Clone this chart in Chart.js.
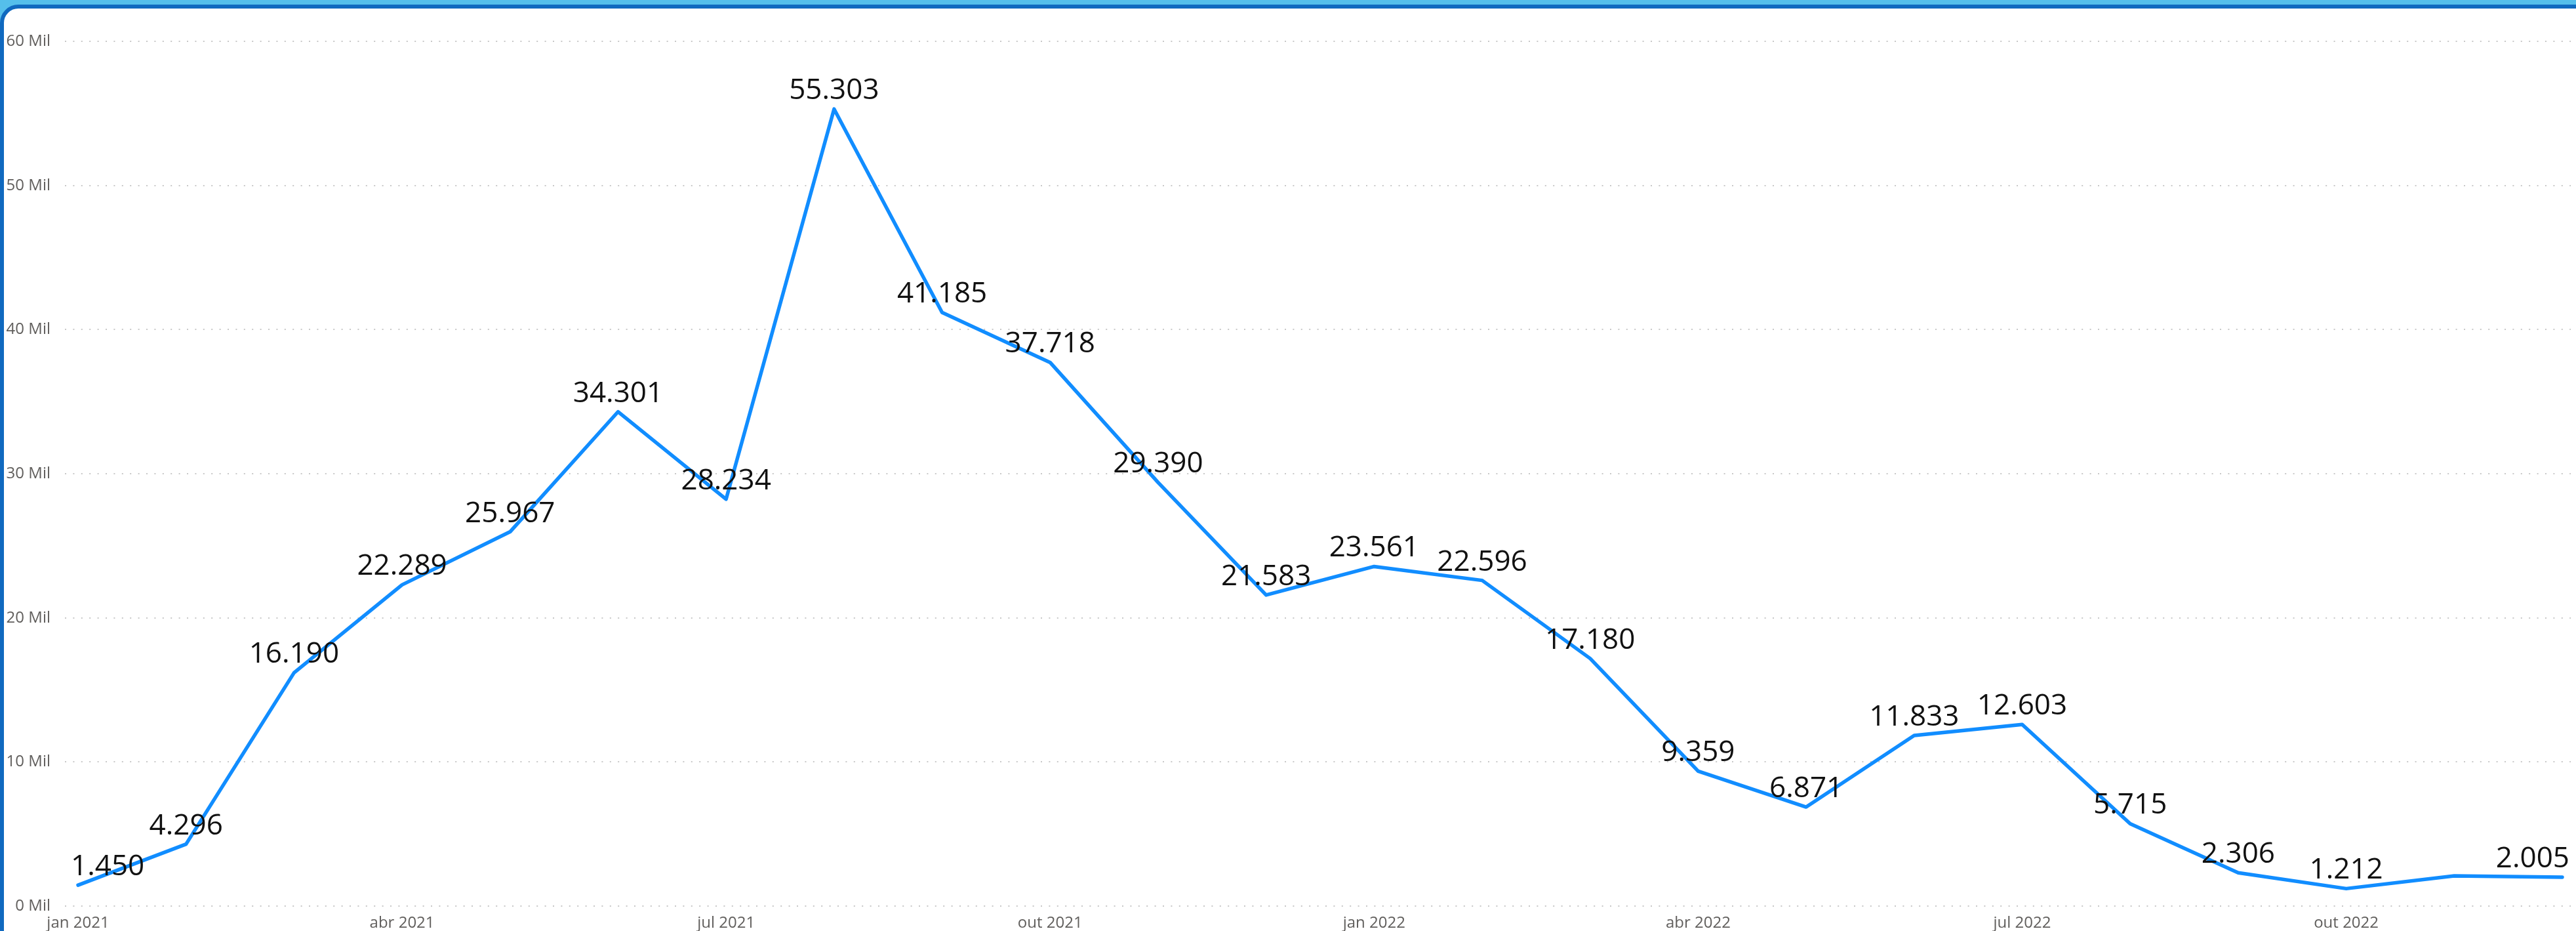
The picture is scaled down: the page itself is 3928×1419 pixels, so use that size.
<!DOCTYPE html>
<html>
<head>
<meta charset="utf-8">
<script src="https://cdn.jsdelivr.net/npm/chart.js@4"></script>
<style>
  html, body { margin: 0; padding: 0; width: 3928px; height: 1419px; overflow: hidden; background: #55BFEB; }
  .card {
    position: absolute; left: 0; top: 7px; width: 4000px; height: 1500px;
    background: #fff; border: 6px solid #1069BF; border-top-left-radius: 28px;
    box-sizing: border-box;
  }
  .wrap { position: absolute; left: 0; top: 0; width: 3928px; height: 1419px; }
</style>
</head>
<body>
<div class="card"></div>
<div class="wrap"><canvas id="grafico"></canvas></div>
<script>
// meses (eixo x)
const meses = ['jan 2021','fev 2021','mar 2021','abr 2021','mai 2021','jun 2021',
               'jul 2021','ago 2021','set 2021','out 2021','nov 2021','dez 2021',
               'jan 2022','fev 2022','mar 2022','abr 2022','mai 2022','jun 2022',
               'jul 2022','ago 2022','set 2022','out 2022','nov 2022','dez 2022'];
// valores mensais
const valores = [1450, 4296, 16190, 22289, 25967, 34301, 28234, 55303, 41185, 37718, 29390, 21583,
                 23561, 22596, 17180, 9359, 6871, 11833, 12603, 5715, 2306, 1212, 2090, 2005];
// meses com rótulo no eixo x
const mesesEixo = [0, 3, 6, 9, 12, 15, 18, 21];
// marcas do eixo y
const ticksY = [0, 10000, 20000, 30000, 40000, 50000, 60000];
// rótulo de dados escondido (sobreposição no original)
const semRotulo = [22];

const fmt = v => String(v).replace(/\B(?=(\d{3})+(?!\d))/g, '.');

// desenha os valores acima de cada ponto
const rotulos = {
    id: 'rotulos',
    afterDatasetsDraw(chart) {
        const ctx = chart.ctx;
        const area = chart.chartArea;
        const meta = chart.getDatasetMeta(0);
        ctx.save();
        ctx.font = '44px "Open Sans", "Noto Sans", sans-serif';
        ctx.fillStyle = '#111';
        ctx.textAlign = 'center';
        ctx.textBaseline = 'alphabetic';
        meta.data.forEach((pt, i) => {
            if (semRotulo.includes(i)) return;
            const txt = fmt(valores[i]);
            const w = ctx.measureText(txt).width;
            let x = pt.x;
            if (x - w / 2 < area.left + 9) x = area.left + 9 + w / 2;
            if (x + w / 2 > area.right - 2) x = area.right - 2 - w / 2;
            ctx.fillText(txt, x, pt.y - 15);
        });
        ctx.restore();
    }
};

const ctx = document.getElementById('grafico');
new Chart(ctx, {
    type: 'line',
    data: {
        datasets: [{
            data: valores.map((v, i) => ({ x: i, y: v })),
            borderColor: '#118DFF',
            borderWidth: 5.5,
            borderCapStyle: 'round',
            borderJoinStyle: 'round',
            pointRadius: 0,
            tension: 0,
            fill: false
        }]
    },
    options: {
        responsive: true,
        maintainAspectRatio: false,
        animation: false,
        layout: { padding: { top: 63, right: 8, bottom: 0, left: 0 } },
        plugins: { legend: { display: false }, tooltip: { enabled: false } },
        scales: {
            x: {
                type: 'linear',
                min: -0.1214,
                max: 23.079,
                afterBuildTicks: s => { s.ticks = mesesEixo.map(v => ({ value: v })); },
                afterFit: s => { s.height = 38; },
                grid: { display: false, drawTicks: false },
                border: { display: false },
                ticks: {
                    autoSkip: false, maxRotation: 0, padding: 12,
                    color: '#605E5C',
                    font: { family: '"Open Sans", "Noto Sans", sans-serif', size: 24 },
                    callback: v => meses[v]
                }
            },
            y: {
                min: 0,
                max: 60000,
                afterBuildTicks: s => { s.ticks = ticksY.map(v => ({ value: v })); },
                afterFit: s => { s.width = 99; },
                grid: { color: '#C8C8C8', lineWidth: 2, drawTicks: false },
                border: { display: false, dash: [2, 10.4] },
                ticks: {
                    padding: 22,
                    color: '#605E5C',
                    font: { family: '"Open Sans", "Noto Sans", sans-serif', size: 24 },
                    callback: v => (v / 1000) + ' Mil'
                }
            }
        }
    },
    plugins: [rotulos]
});
</script>
</body>
</html>
